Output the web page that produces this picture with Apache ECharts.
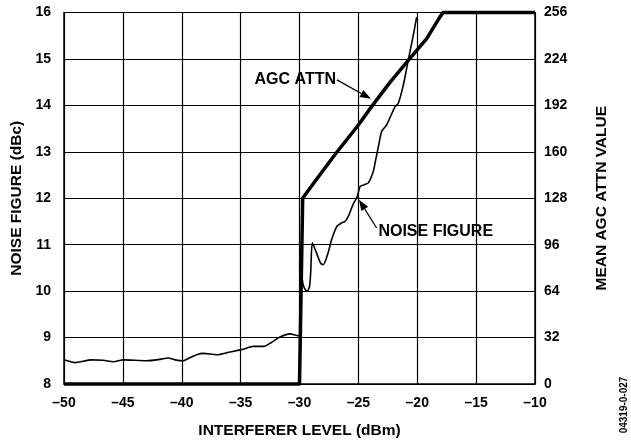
<!DOCTYPE html>
<html><head><meta charset="utf-8">
<script src="https://cdn.jsdelivr.net/npm/echarts@6/dist/echarts.min.js"></script>
<style>html,body{margin:0;padding:0;background:#fff}#c{width:631px;height:443px}</style>
</head><body><div id="c"></div>
<script>
// Interferer level (dBm) and noise figure (dBc)
const nfLevels = [-50,-49.77,-49.07,-47.65,-46.66,-45.81,-44.96,-42.98,-41.85,-41.14,-40.57,-39.87,-39.44,-38.73,-38.17,-37.04,-35.9,-34.91,-33.92,-33.07,-32.36,-31.66,-30.81,-30.1,-29.95,-29.8,-29.7,-29.55,-29.35,-29.15,-29.05,-28.91,-28.6,-28.2,-27.98,-27.6,-27.27,-26.84,-26.42,-26.14,-25.86,-25.43,-25.09,-24.86,-24.5,-24.15,-23.73,-23.56,-23.3,-23.02,-22.6,-21.89,-21.6,-21.18,-20.76,-20.33,-20.05];
const nfValues = [8.52,8.505,8.46,8.52,8.51,8.48,8.52,8.5,8.53,8.56,8.52,8.5,8.55,8.63,8.66,8.63,8.69,8.74,8.81,8.81,8.9,9.01,9.08,9.04,9.06,10.3,10.15,10.05,10.0,10.1,10.4,11.04,10.85,10.6,10.57,10.8,11.11,11.39,11.47,11.5,11.61,11.88,12.04,12.25,12.29,12.33,12.58,12.79,13.11,13.44,13.58,13.97,14.05,14.44,14.98,15.52,15.9];
// Interferer level (dBm) and mean AGC attenuation value
const agcLevels = [-50,-30,-29.73,-29.1,-27.0,-25.0,-23.8,-22.3,-20.76,-19.2,-18.07,-17.8,-10];
const agcValues = [0,0,128,135,158,178.5,192,208,223,238,253,256,256];
const xTicks = {min:-50, max:-10, step:5};
const nfTicks = {min:8, max:16, step:1};
const agcTicks = {min:0, max:256, step:32};

const FONT = "'Liberation Sans', Arial, sans-serif";
const chart = echarts.init(document.getElementById('c'), null, {renderer:'canvas'});
const dash = v => String(v).replace('-', '\u2013');
const lbl = {color:'#000', fontFamily:FONT, fontWeight:'bold', fontSize:14};
const nameStyle = {color:'#000', fontFamily:FONT, fontWeight:'bold', fontSize:15.5};

chart.setOption({
  animation:false,
  backgroundColor:'#fff',
  grid:{left:64, right:96, top:12.5, bottom:59, containLabel:false, outerBoundsMode:'none'},
  xAxis:{type:'value', min:xTicks.min, max:xTicks.max, interval:xTicks.step,
    axisLine:{show:true, lineStyle:{color:'#000', width:1.5}},
    axisTick:{show:false},
    axisLabel:Object.assign({margin:12, formatter:dash}, lbl),
    splitLine:{show:true, lineStyle:{color:'#000', width:1.2}},
    name:'INTERFERER LEVEL (dBm)', nameLocation:'middle', nameGap:39, nameTextStyle:nameStyle},
  yAxis:[
    {type:'value', min:nfTicks.min, max:nfTicks.max, interval:nfTicks.step, position:'left',
     axisLine:{show:true, lineStyle:{color:'#000', width:1.5}},
     axisTick:{show:false},
     axisLabel:Object.assign({margin:13}, lbl),
     splitLine:{show:true, lineStyle:{color:'#000', width:1.2}},
     name:'NOISE FIGURE (dBc)', nameLocation:'middle', nameRotate:90, nameGap:35, nameTextStyle:nameStyle},
    {type:'value', min:agcTicks.min, max:agcTicks.max, interval:agcTicks.step, position:'right',
     axisLine:{show:true, lineStyle:{color:'#000', width:1.5}},
     axisTick:{show:false},
     axisLabel:Object.assign({margin:9}, lbl),
     splitLine:{show:false},
     name:'MEAN AGC ATTN VALUE', nameLocation:'middle', nameRotate:90, nameGap:59, nameTextStyle:nameStyle}
  ],
  series:[
    {type:'line', name:'NOISE FIGURE', yAxisIndex:0, showSymbol:false, smooth:0.25, clip:false,
     data:nfLevels.map((x,i)=>[x,nfValues[i]]), lineStyle:{color:'#000', width:1.6}},
    {type:'line', name:'AGC ATTN', yAxisIndex:1, showSymbol:false, clip:false,
     data:agcLevels.map((x,i)=>[x,agcValues[i]]), lineStyle:{color:'#000', width:3.5, join:'round'}}
  ]
});

// Callouts placed in data coordinates (interferer level, noise figure)
const callouts = [
  {text:'AGC ATTN', anchor:[-26.9,14.55], align:'right', from:[-26.82,14.55], to:[-23.93,14.14]},
  {text:'NOISE FIGURE', anchor:[-23.3,11.29], align:'left', from:[-23.45,11.36], to:[-24.95,11.97]}
];
const g = [];
callouts.forEach(c => {
  const a = chart.convertToPixel({xAxisIndex:0, yAxisIndex:0}, c.anchor);
  const p1 = chart.convertToPixel({xAxisIndex:0, yAxisIndex:0}, c.from);
  const p2 = chart.convertToPixel({xAxisIndex:0, yAxisIndex:0}, c.to);
  g.push({type:'text', x:a[0], y:a[1], style:{text:c.text, fill:'#000', font:'bold 16px '+FONT, textAlign:c.align, textVerticalAlign:'middle'}});
  const dx = p2[0]-p1[0], dy = p2[1]-p1[1], L = Math.hypot(dx,dy), ux = dx/L, uy = dy/L;
  const hl = 11, hw = 4;
  const bx = p2[0]-ux*hl, by = p2[1]-uy*hl;
  g.push({type:'line', shape:{x1:p1[0], y1:p1[1], x2:bx, y2:by}, style:{stroke:'#000', lineWidth:1.3}});
  g.push({type:'polygon', shape:{points:[[p2[0],p2[1]],[bx-uy*hw, by+ux*hw],[bx+uy*hw, by-ux*hw]]}, style:{fill:'#000'}});
});
g.push({type:'text', x:624, y:405, rotation:Math.PI/2, style:{text:'04319-0-027', fill:'#000', font:'bold 10px '+FONT, textAlign:'center', textVerticalAlign:'middle'}});
chart.setOption({graphic:g});
</script></body></html>
